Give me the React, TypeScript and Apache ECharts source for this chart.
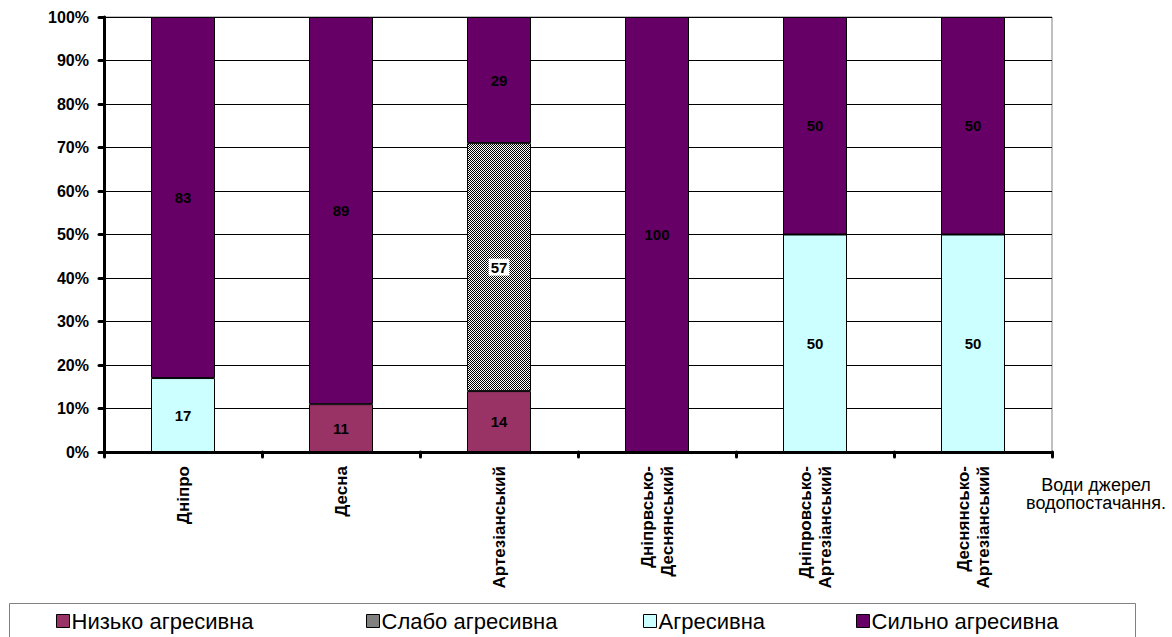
import React, { useEffect, useRef } from "react";
import * as echarts from "echarts";

// Water supply sources
const categories = [
  "Дніпро",
  "Десна",
  "Артезіанський",
  "Дніпрвсько-\nДеснянський",
  "Дніпровсько-\nАртезіанський",
  "Деснянсько-\nАртезіанський",
];

// Share of samples by aggressiveness class, %
const lowAggressive = [0, 11, 14, 0, 0, 0];
const weakAggressive = [0, 0, 57, 0, 0, 0];
const aggressive = [17, 0, 0, 0, 50, 50];
const strongAggressive = [83, 89, 29, 100, 50, 50];

const seriesNames = ["Низько агресивна", "Слабо агресивна", "Агресивна", "Сильно агресивна"];
const yTicks = [0, 10, 20, 30, 40, 50, 60, 70, 80, 90, 100];

const FONT = "Arial, 'Liberation Sans', sans-serif";

// fine 50% pattern for the hatched class
function makeHatch(): HTMLCanvasElement {
  const c = document.createElement("canvas");
  c.width = 4;
  c.height = 4;
  const ctx = c.getContext("2d")!;
  ctx.fillStyle = "#ffffff";
  ctx.fillRect(0, 0, 4, 4);
  ctx.fillStyle = "#000000";
  for (let y = 0; y < 4; y++) {
    for (let x = 0; x < 4; x++) {
      if ((x + y) % 2 === 0) ctx.fillRect(x, y, 1, 1);
    }
  }
  return c;
}

export default function App() {
  const ref = useRef<HTMLDivElement>(null);

  useEffect(() => {
    document.body.style.margin = "0";
    const chart = echarts.init(ref.current!, null, { renderer: "svg" });
    const hatch = makeHatch();

    const labelBase = {
      show: true,
      position: "inside" as const,
      color: "#000",
      fontFamily: FONT,
      fontWeight: "bold" as const,
      fontSize: 15,
    };

    // empty classes are left out of the stack
    const mk = (name: string, data: number[], color: any, extraLabel: any = {}) => ({
      name,
      type: "bar",
      stack: "total",
      data: data.map((v) => (v ? v : "-")),
      barWidth: 64,
      itemStyle: { color, borderColor: "#000", borderWidth: 1 },
      label: { ...labelBase, ...extraLabel },
    });

    const legendLefts = [56, 366, 643, 856];

    chart.setOption({
      animation: false,
      grid: {
        left: 104,
        top: 17,
        right: 120,
        bottom: 185,
        show: true,
        borderColor: "#808080",
        borderWidth: 1,
      },
      xAxis: {
        type: "category",
        data: categories,
        axisLine: { lineStyle: { color: "#000", width: 3 } },
        axisTick: { show: true, length: 5, lineStyle: { color: "#000", width: 3, cap: "round" } },
        axisLabel: {
          rotate: 90,
          margin: 14,
          color: "#000",
          fontFamily: FONT,
          fontWeight: "bold",
          fontSize: 17,
          lineHeight: 20,
          interval: 0,
        },
      },
      yAxis: {
        type: "value",
        min: 0,
        max: 100,
        interval: 10,
        axisLine: { show: true, lineStyle: { color: "#000", width: 3 } },
        axisTick: { show: true, length: 5, lineStyle: { color: "#000", width: 3, cap: "round" } },
        splitLine: { lineStyle: { color: "#000", width: 1 } },
        axisLabel: {
          formatter: (v: number) => (yTicks.includes(v) ? v + "%" : ""),
          color: "#000",
          fontFamily: FONT,
          fontWeight: "bold",
          fontSize: 16,
          margin: 15,
        },
      },
      legend: seriesNames.map((n, i) => ({
        data: [n],
        left: legendLefts[i],
        top: 610,
        itemWidth: 13,
        itemHeight: 13,
        itemGap: 0,
        icon: "rect",
        padding: 0,
        textStyle: { fontFamily: FONT, fontSize: 22, color: "#000", padding: [0, 0, 0, -3] },
        itemStyle: { borderColor: "#000", borderWidth: 1 },
      })),
      graphic: [
        {
          type: "rect",
          shape: { x: 9.5, y: 603.5, width: 1126, height: 40 },
          style: { fill: "none", stroke: "#808080", lineWidth: 1 },
          z: -1,
        },
        {
          type: "text",
          x: 1096,
          y: 476,
          style: {
            text: "Води джерел\nводопостачання.",
            font: `18px ${FONT}`,
            fill: "#000",
            align: "center",
            lineHeight: 18,
          },
        },
      ],
      series: [
        mk(seriesNames[0], lowAggressive, "#993366"),
        mk(seriesNames[1], weakAggressive, { image: hatch, repeat: "repeat", imageWidth: 4, imageHeight: 4 }, {
          backgroundColor: "#fff",
          padding: [2, 2, 0, 2],
        }),
        mk(seriesNames[2], aggressive, "#CCFFFF"),
        mk(seriesNames[3], strongAggressive, "#660066"),
      ],
    });

    return () => chart.dispose();
  }, []);

  return <div ref={ref} style={{ width: 1172, height: 637 }} />;
}
